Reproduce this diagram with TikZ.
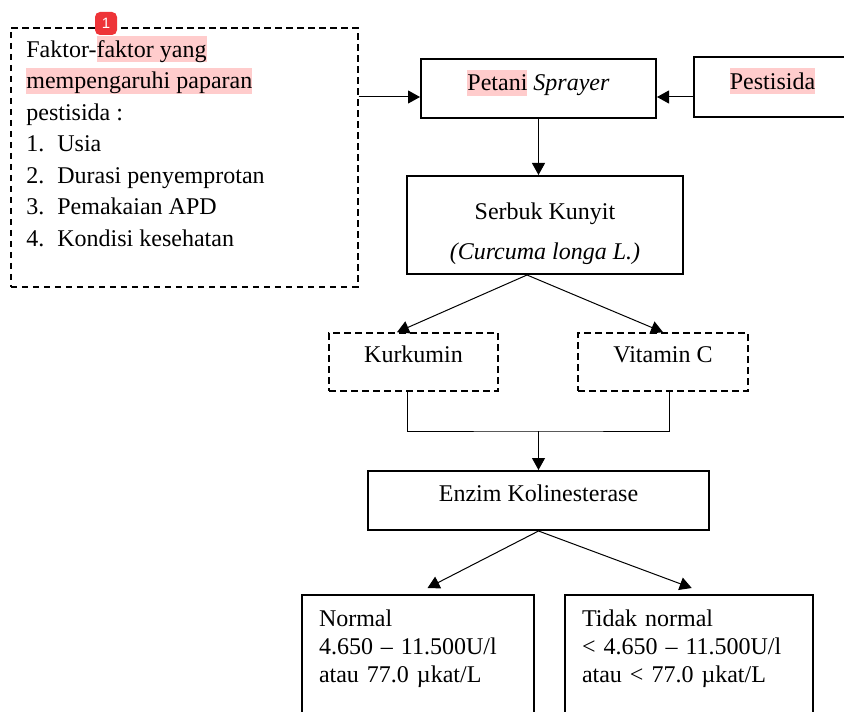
\documentclass[tikz,border=0pt]{standalone}
\usepackage{fontspec}
\setmainfont{Liberation Serif}
\setsansfont{Liberation Sans}
\usepackage{tikz}
\usetikzlibrary{positioning,arrows.meta,calc}
\definecolor{hlpink}{RGB}{255,204,204}
\definecolor{badgered}{RGB}{238,52,56}
\newcommand{\hlt}[1]{{\setlength{\fboxsep}{0pt}\colorbox{hlpink}{\rule[-2.5pt]{0pt}{13pt}#1}}}

\begin{document}
\begin{tikzpicture}[x=0.5pt,y=-0.5pt,font=\fontsize{12}{14}\selectfont,
  box/.style={draw,line width=1pt,inner sep=0pt},
  dbox/.style={box,line width=0.8pt,dash pattern=on 3.3pt off 2.2pt},
  oneline/.style={text height=8pt,text depth=#1},
  arr/.style={line width=0.5pt,-{Triangle[length=6pt,width=6.5pt]}},
  ln/.style={line width=0.5pt}]
\useasboundingbox (0,0) rectangle (844,711);
\clip (0,0) rectangle (844,711);
% faktor box with list
\node[dbox,minimum width=173.5pt,minimum height=129.5pt,anchor=north west] (faktor) at (10,27) {};
\node[anchor=north west,align=left,inner sep=0pt,font=\fontsize{12}{15.8}\selectfont] (faktortxt) at (26,35.7)
  {Faktor-\hlt{faktor yang}\\\hlt{mempengaruhi paparan}\\pestisida :};
\foreach \t [count=\i] in {Usia,Durasi penyemprotan,Pemakaian APD,Kondisi kesehatan}{
\node[anchor=base west,inner sep=0pt] (item\i) at (26,{56.7+31.6*(2+\i)}) {\makebox[15.5pt][l]{\i.}\t};
}
\node[fill=badgered,rounded corners=2.5pt,minimum width=11pt,minimum height=11.5pt,inner sep=0pt,
  text=white,font=\sffamily\fontsize{7.5}{8}\selectfont] (badge) at (106,23.5) {1};
% top row
\node[box,oneline=5.6pt,minimum width=117.5pt,minimum height=29.5pt] (petani) at (538.5,88.5) {\hlt{Petani} \textit{Sprayer}};
\node[box,oneline=6.15pt,minimum width=78.5pt,minimum height=30pt] (pestisida) at (772.5,87.3) {\hlt{Pestisida}};
\node[box,inner ysep=4pt,minimum width=138pt,text height=18pt,text depth=23pt] (serbuk) at (545,225)
  {\begin{tabular}[t]{@{}c@{}}Serbuk Kunyit\\[6pt]\textit{(Curcuma longa L.)}\end{tabular}};
% kandungan
\node[dbox,oneline=7.35pt,minimum width=84.5pt,minimum height=29pt] (kurkumin) at (413.5,362) {Kurkumin};
\node[dbox,oneline=7.35pt,minimum width=85pt,minimum height=29pt] (vitc) at (663,362) {Vitamin C};
\node[box,oneline=7.4pt,minimum width=170.5pt,minimum height=29.5pt] (enzim) at (538.5,500.5) {Enzim Kolinesterase};
% hasil
\node[box,anchor=north west,align=left,text width=99pt,inner xsep=8.5pt,inner ysep=7.6pt,text depth=60pt] (normal) at (301,594)
  {Normal\\4.650 -- 11.500U/l\\atau 77.0 µkat/L};
\node[box,anchor=north west,align=left,text width=107pt,inner xsep=8.5pt,inner ysep=7.6pt,text depth=60pt] (tidak) at (564,594)
  {Tidak normal\\< 4.650 -- 11.500U/l\\atau < 77.0 µkat/L};
% connectors
\coordinate (pin) at ([yshift=-4.25pt]petani.west);
\coordinate (pin2) at ([yshift=-4.25pt]petani.east);
\draw[arr] (faktor.east |- pin) -- (pin);
\draw[arr] (pestisida.west |- pin2) -- (pin2);
\draw[arr] (petani.south) -- (petani.south |- serbuk.north);
\coordinate (sapex) at ([xshift=-9pt]serbuk.south);
\draw[arr] (sapex) -- ([xshift=-8.25pt]kurkumin.north);
\draw[arr] (sapex) -- (vitc.north);
\coordinate (merge) at (538.5,431);
\draw[ln] ([xshift=-3.25pt]kurkumin.south) |- (merge) -| ([xshift=3pt]vitc.south);
\draw[arr] (merge) -- (enzim.north);
\draw[arr] (enzim.south) -- ([shift={(4.75pt,3pt)}]normal.north);
\draw[arr] (enzim.south) -- ([shift={(1.35pt,3pt)}]tidak.north);
\end{tikzpicture}
\end{document}
